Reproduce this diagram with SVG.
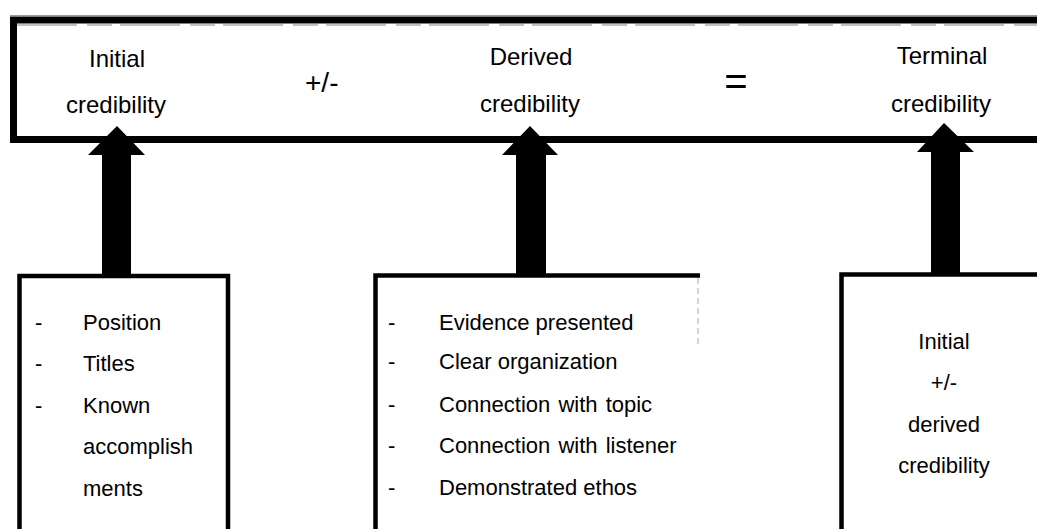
<svg xmlns="http://www.w3.org/2000/svg" width="1037" height="529" viewBox="0 0 1037 529">
  <style>
    .frame { fill: #fff; stroke: #000; }
    .head { font-family: "Liberation Sans", Arial, sans-serif; font-size: 24px; fill: #000; text-anchor: middle; }
    .item { font-family: "Liberation Sans", Arial, sans-serif; font-size: 22px; fill: #000; }
    .mid { text-anchor: middle; }
    .op { font-family: "Liberation Sans", Arial, sans-serif; fill: #000; }
    .arrow { fill: #000; }
  </style>
  <rect width="1037" height="529" fill="#fff"/>

  <!-- header bar: initial +/- derived = terminal -->
  <g id="credibility-bar">
    <line x1="10" y1="15.5" x2="1037" y2="15.5" stroke="#999" stroke-width="1"/>
    <rect class="frame" x="13.5" y="20" width="1040" height="119.5" stroke-width="7"/>
    <line x1="17" y1="25" x2="1037" y2="25" stroke="#666" stroke-width="0.8" stroke-dasharray="60 10 25 8"/>
    <text class="head" x="117" y="67">Initial</text>
    <text class="head" x="116" y="113">credibility</text>
    <text class="op" x="305" y="92" font-size="28">+/-</text>
    <text class="head" x="531" y="65">Derived</text>
    <text class="head" x="530" y="112">credibility</text>
    <text class="op" x="736" y="95" font-size="40" text-anchor="middle">=</text>
    <text class="head" x="942" y="64">Terminal</text>
    <text class="head" x="941" y="112">credibility</text>
  </g>

  <!-- arrows feeding each term of the bar -->
  <g id="connectors">
    <path class="arrow" d="M102,277 L102,155 L88,155 L117,126 L145,155 L131,155 L131,277 Z"/>
    <path class="arrow" d="M516,277 L516,155 L502,155 L530,126 L558,155 L546,155 L546,277 Z"/>
    <path class="arrow" d="M931,275 L931,152 L917,152 L944,123 L974,152 L960,152 L960,275 Z"/>
  </g>

  <!-- initial credibility factors -->
  <g id="initial-box">
    <rect class="frame" x="19.5" y="276" width="208.5" height="270" stroke-width="4.5"/>
    <text class="item" x="35" y="330">-</text>
    <text class="item" x="83" y="330">Position</text>
    <text class="item" x="35" y="371">-</text>
    <text class="item" x="83" y="371">Titles</text>
    <text class="item" x="35" y="413">-</text>
    <text class="item" x="83" y="413">Known</text>
    <text class="item" x="83" y="454">accomplish</text>
    <text class="item" x="83" y="496">ments</text>
  </g>

  <!-- derived credibility factors -->
  <g id="derived-box">
    <path d="M375.5,540 L375.5,275.5 L700,275.5" fill="none" stroke="#000" stroke-width="4.5"/>
    <line x1="698" y1="278" x2="698" y2="345" stroke="#aaa" stroke-width="1" stroke-dasharray="6 4"/>
    <text class="item" x="388" y="330">-</text>
    <text class="item" x="439" y="330">Evidence presented</text>
    <text class="item" x="388" y="369">-</text>
    <text class="item" x="439" y="369">Clear organization</text>
    <text class="item" x="388" y="412">-</text>
    <text class="item" x="439" y="412" word-spacing="2">Connection with topic</text>
    <text class="item" x="388" y="453">-</text>
    <text class="item" x="439" y="453" word-spacing="2">Connection with listener</text>
    <text class="item" x="388" y="495">-</text>
    <text class="item" x="439" y="495">Demonstrated ethos</text>
  </g>

  <!-- terminal credibility -->
  <g id="terminal-box">
    <rect class="frame" x="841.5" y="274.5" width="220" height="270" stroke-width="4.5"/>
    <text class="item mid" x="944" y="349">Initial</text>
    <text class="item mid" x="944" y="390">+/-</text>
    <text class="item mid" x="944" y="432">derived</text>
    <text class="item mid" x="944" y="473">credibility</text>
  </g>
</svg>
